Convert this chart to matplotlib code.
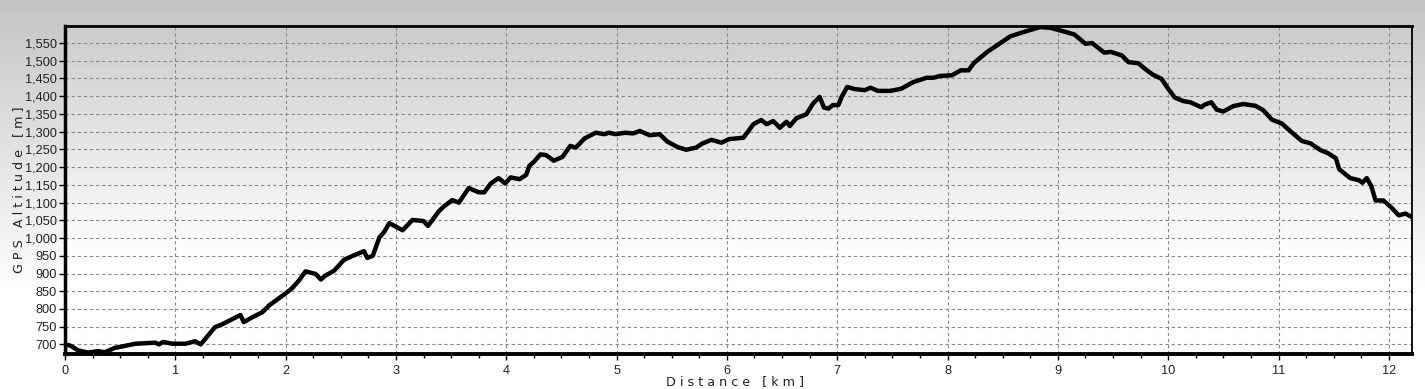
import numpy as np
import matplotlib
matplotlib.use("Agg")
import matplotlib.pyplot as plt
from matplotlib.ticker import MultipleLocator, FuncFormatter

plt.rcParams["font.family"] = ["Liberation Sans", "DejaVu Sans"]

distance_km = [
    0.0, 0.0, 0.045, 0.12, 0.21, 0.30, 0.36, 0.45, 0.64, 0.82, 0.85, 0.89, 0.97, 1.09,
    1.18, 1.23, 1.36, 1.42, 1.52, 1.59, 1.62, 1.70, 1.79, 1.85, 2.0, 2.06, 2.12, 2.18,
    2.27, 2.32, 2.36, 2.44, 2.53, 2.61, 2.71, 2.74, 2.79, 2.85, 2.89, 2.94, 3.06, 3.15,
    3.25, 3.29, 3.39, 3.43, 3.51, 3.57, 3.66, 3.75, 3.80, 3.86, 3.93, 3.99, 4.04, 4.12,
    4.18, 4.21, 4.25, 4.31, 4.36, 4.43, 4.51, 4.58, 4.63, 4.71, 4.81, 4.89, 4.93, 4.99,
    5.08, 5.15, 5.21, 5.30, 5.39, 5.46, 5.55, 5.63, 5.72, 5.78, 5.86, 5.95, 6.02, 6.15,
    6.24, 6.31, 6.36, 6.42, 6.48, 6.54, 6.57, 6.63, 6.72, 6.78, 6.84, 6.88, 6.92, 6.96,
    7.01, 7.04, 7.09, 7.16, 7.25, 7.30, 7.37, 7.48, 7.58, 7.69, 7.81, 7.87, 7.93, 8.04,
    8.12, 8.19, 8.24, 8.36, 8.48, 8.57, 8.72, 8.84, 8.93, 9.05, 9.15, 9.25, 9.31, 9.42,
    9.48, 9.58, 9.64, 9.73, 9.79, 9.86, 9.94, 10.0, 10.06, 10.14, 10.20, 10.30, 10.33,
    10.39, 10.44, 10.50, 10.59, 10.68, 10.79, 10.86, 10.94, 11.03, 11.12, 11.21, 11.29,
    11.38, 11.45, 11.52, 11.55, 11.65, 11.73, 11.76, 11.80, 11.84, 11.88, 11.95, 12.02,
    12.09, 12.15, 12.21,
]
altitude_m = [
    678, 700, 697, 683, 677, 681, 678, 690, 702, 705, 700, 707, 702, 702,
    709, 700, 749, 756, 772, 783, 763, 777, 791, 810, 844, 859, 880, 906,
    899, 883, 894, 908, 939, 950, 963, 944, 950, 1002, 1016, 1042, 1022, 1051,
    1048, 1034, 1076, 1088, 1107, 1100, 1141, 1129, 1129, 1154, 1169, 1154, 1171, 1166,
    1178, 1204, 1215, 1236, 1234, 1218, 1229, 1260, 1255, 1281, 1297, 1293, 1297, 1293,
    1297, 1295, 1302, 1290, 1293, 1272, 1257, 1249, 1255, 1267, 1277, 1269, 1279, 1283,
    1321, 1333, 1321, 1330, 1311, 1328, 1316, 1338, 1349, 1379, 1398, 1368, 1365, 1375,
    1375, 1398, 1426, 1420, 1417, 1424, 1415, 1415, 1421, 1440, 1452, 1452, 1457, 1459,
    1473, 1473, 1494, 1525, 1550, 1569, 1584, 1595, 1593, 1583, 1574, 1548, 1550, 1523,
    1525, 1515, 1496, 1493, 1477, 1461, 1449, 1421, 1396, 1386, 1383, 1369, 1376,
    1383, 1362, 1357, 1372, 1378, 1373, 1361, 1334, 1323, 1298, 1274, 1267,
    1248, 1239, 1225, 1194, 1169, 1163, 1156, 1169, 1147, 1106, 1106, 1087,
    1064, 1069, 1059,
]

fig = plt.figure(figsize=(14.25, 3.89), dpi=100)

# figure background gradient
bg = fig.add_axes([0, 0, 1, 1], zorder=-10)
bg.axis("off")
g = np.linspace(0, 1, 256).reshape(-1, 1)
top_c = np.array([0.77, 0.77, 0.77])
bot_c = np.array([1.0, 1.0, 1.0])
t = np.clip(g / 0.75, 0, 1)
img = top_c * (1 - t[..., None]) + bot_c * t[..., None]
bg.imshow(img, aspect="auto", extent=[0, 1, 0, 1], origin="upper")
bg.set_xlim(0, 1)
bg.set_ylim(0, 1)

ax = fig.add_axes([65 / 1425, 1 - 354 / 389, (1412 - 65) / 1425, (354 - 26) / 389])

# axes background gradient
top_a = np.array([0.80, 0.80, 0.80])
t2 = np.clip(g / 0.7, 0, 1)
img2 = top_a * (1 - t2[..., None]) + bot_c * t2[..., None]
ax.imshow(img2, aspect="auto", extent=[0, 12.21, 673, 1598], origin="upper", zorder=0)

ax.plot(distance_km, altitude_m, color="black", lw=3.2, solid_joinstyle="round", zorder=3)

ax.yaxis.set_major_locator(MultipleLocator(50))
ax.xaxis.set_major_locator(MultipleLocator(1))
ax.xaxis.set_minor_locator(MultipleLocator(0.25))
ax.yaxis.set_major_formatter(FuncFormatter(lambda v, p: f"{int(v):,}"))
ax.set_ylim(673, 1598)
ax.set_xlim(0, 12.21)

ax.grid(True, which="major", color="#8a8a8a", linestyle=(0, (3, 2.5)), lw=0.8, zorder=1)
ax.set_axisbelow(False)
for l in ax.get_xgridlines() + ax.get_ygridlines():
    l.set_zorder(1)

ax.tick_params(axis="both", which="major", direction="out", length=4, width=1, labelsize=9.2,
               colors="black", pad=2)
ax.tick_params(axis="y", labelcolor="#222222")
ax.tick_params(axis="x", which="minor", direction="out", length=3, width=1)
ax.tick_params(axis="x", pad=4, labelcolor="#222222")

ax.spines["left"].set_linewidth(2.5)
ax.spines["bottom"].set_linewidth(2.8)
ax.spines["top"].set_linewidth(2.0)
ax.spines["right"].set_linewidth(1.3)
for s in ax.spines.values():
    s.set_color("black")
    s.set_zorder(5)

fig.text(19 / 1425, 1 - 190 / 389, "G P S   A l t i t u d e   [ m ]", rotation=90,
         ha="center", va="center", fontsize=9.2, color="#222222", family=["DejaVu Sans"])
fig.text(735 / 1425, 1 - 382 / 389, "D i s t a n c e   [ k m ]", ha="center", va="center",
         fontsize=9.2, color="#222222", family=["DejaVu Sans"])

fig.savefig("out.png", dpi=100)
